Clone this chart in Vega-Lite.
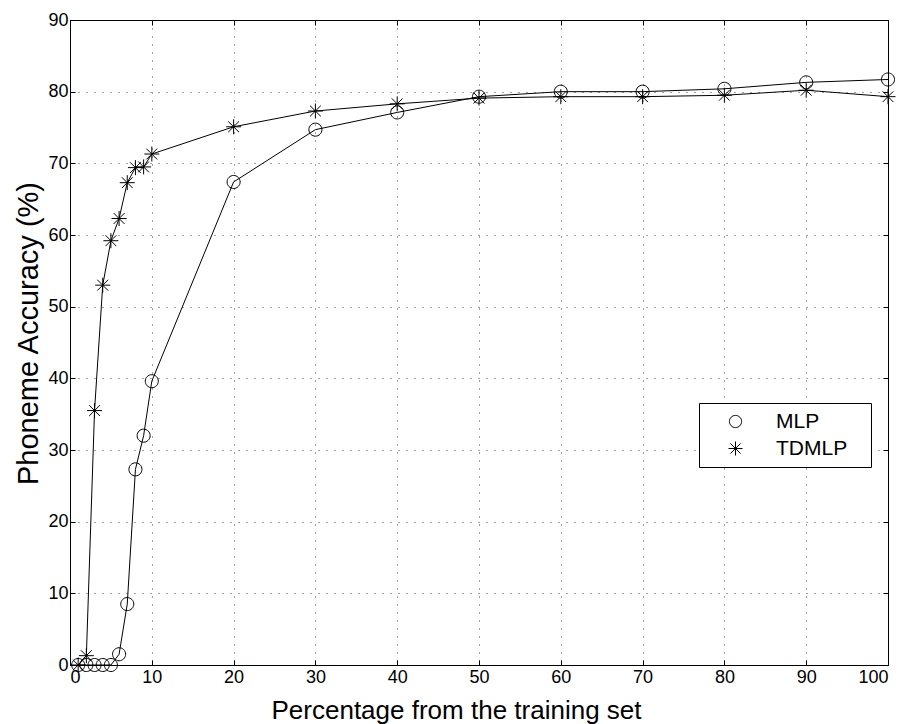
{
  "$schema": "https://vega.github.io/schema/vega-lite/v6.json",
  "width": 818,
  "height": 645,
  "autosize": "none",
  "padding": {"left": 70, "top": 20, "right": 17, "bottom": 59},
  "background": "white",
  "config": {
    "view": {"stroke": null},
    "font": "Liberation Sans",
    "axis": {
      "domainColor": "black",
      "domainWidth": 1,
      "tickColor": "black",
      "tickSize": -5,
      "labelColor": "black",
      "labelFont": "Liberation Sans",
      "labelFontSize": 18,
      "titleFont": "Liberation Sans",
      "titleFontSize": 26,
      "titleFontWeight": "normal",
      "titleColor": "black",
      "gridColor": "#444",
      "gridDash": [1, 7],
      "gridOpacity": 1,
      "gridWidth": 1
    }
  },
  "data": {
    "values": [
      {"x": 1, "acc": 0, "model": "MLP"},
      {"x": 2, "acc": 0, "model": "MLP"},
      {"x": 3, "acc": 0, "model": "MLP"},
      {"x": 4, "acc": 0, "model": "MLP"},
      {"x": 5, "acc": 0, "model": "MLP"},
      {"x": 6, "acc": 1.5, "model": "MLP"},
      {"x": 7, "acc": 8.5, "model": "MLP"},
      {"x": 8, "acc": 27.3, "model": "MLP"},
      {"x": 9, "acc": 32.0, "model": "MLP"},
      {"x": 10, "acc": 39.6, "model": "MLP"},
      {"x": 20, "acc": 67.4, "model": "MLP"},
      {"x": 30, "acc": 74.7, "model": "MLP"},
      {"x": 40, "acc": 77.1, "model": "MLP"},
      {"x": 50, "acc": 79.3, "model": "MLP"},
      {"x": 60, "acc": 80.0, "model": "MLP"},
      {"x": 70, "acc": 80.0, "model": "MLP"},
      {"x": 80, "acc": 80.4, "model": "MLP"},
      {"x": 90, "acc": 81.3, "model": "MLP"},
      {"x": 100, "acc": 81.7, "model": "MLP"},
      {"x": 1, "acc": 0, "model": "TDMLP"},
      {"x": 2, "acc": 1.3, "model": "TDMLP"},
      {"x": 3, "acc": 35.5, "model": "TDMLP"},
      {"x": 4, "acc": 53.0, "model": "TDMLP"},
      {"x": 5, "acc": 59.2, "model": "TDMLP"},
      {"x": 6, "acc": 62.3, "model": "TDMLP"},
      {"x": 7, "acc": 67.3, "model": "TDMLP"},
      {"x": 8, "acc": 69.4, "model": "TDMLP"},
      {"x": 9, "acc": 69.5, "model": "TDMLP"},
      {"x": 10, "acc": 71.3, "model": "TDMLP"},
      {"x": 20, "acc": 75.1, "model": "TDMLP"},
      {"x": 30, "acc": 77.3, "model": "TDMLP"},
      {"x": 40, "acc": 78.3, "model": "TDMLP"},
      {"x": 50, "acc": 79.1, "model": "TDMLP"},
      {"x": 60, "acc": 79.3, "model": "TDMLP"},
      {"x": 70, "acc": 79.3, "model": "TDMLP"},
      {"x": 80, "acc": 79.5, "model": "TDMLP"},
      {"x": 90, "acc": 80.2, "model": "TDMLP"},
      {"x": 100, "acc": 79.3, "model": "TDMLP"}
    ]
  },
  "resolve": {"axis": {"x": "independent", "y": "independent"}},
  "layer": [
    {
      "mark": {"type": "line", "color": "black", "strokeWidth": 1},
      "encoding": {
        "x": {"field": "x", "type": "quantitative",
              "scale": {"domain": [0, 100], "nice": false},
              "axis": {"orient": "bottom", "values": [0,10,20,30,40,50,60,70,80,90,100], "grid": true,
                       "title": "Percentage from the training set", "labelPadding": 8,
                       "titleX": 386, "titleY": 53, "titleBaseline": "alphabetic", "titleAlign": "center"}},
        "y": {"field": "acc", "type": "quantitative",
              "scale": {"domain": [0, 90], "nice": false},
              "axis": {"orient": "left", "values": [0,10,20,30,40,50,60,70,80,90], "grid": true,
                       "title": "Phoneme Accuracy (%)", "labelPadding": 7, "titleFontSize": 29,
                       "titleX": -33, "titleY": 313, "titleAngle": -90, "titleBaseline": "alphabetic", "titleAlign": "center"}},
        "detail": {"field": "model", "type": "nominal"}
      }
    },
    {
      "mark": {"type": "point", "filled": false, "strokeWidth": 1, "size": 225, "opacity": 1},
      "encoding": {
        "x": {"field": "x", "type": "quantitative", "axis": null},
        "y": {"field": "acc", "type": "quantitative", "axis": null},
        "shape": {
          "field": "model", "type": "nominal", "legend": null,
          "scale": {"domain": ["MLP", "TDMLP"],
                    "range": ["M0.87,0A0.87,0.87 0 1,1 -0.87,0A0.87,0.87 0 1,1 0.87,0",
                              "M0,-1L0,1M-1,0L1,0M-0.72,-0.72L0.72,0.72M-0.72,0.72L0.72,-0.72"]}
        },
        "color": {
          "field": "model", "type": "nominal",
          "scale": {"domain": ["MLP", "TDMLP"], "range": ["black", "black"]},
          "legend": {
            "title": null,
            "orient": "none",
            "legendX": 629,
            "legendY": 383,
            "padding": 8,
            "fillColor": "white",
            "strokeColor": "black",
            "symbolSize": 196,
            "symbolOffset": 18,
            "symbolType": {"expr": "datum.value === 'MLP' ? 'M-3.1,0L-0.79,0M0.79,0L3.1,0M0.79,0A0.79,0.79 0 1,1 -0.79,0A0.79,0.79 0 1,1 0.79,0' : 'M-3.1,0L3.1,0M0,-0.86L0,0.86M-0.62,-0.62L0.62,0.62M-0.62,0.62L0.62,-0.62'"},
            "symbolStrokeColor": "black",
            "symbolFillColor": "transparent",
            "symbolStrokeWidth": 1,
            "labelFont": "Liberation Sans",
            "labelFontSize": 21,
            "labelColor": "black",
            "labelOffset": 30,
            "rowPadding": 5,
            "labelExpr": "datum.label + '\u2800'"
          }
        }
      }
    },
    {
      "mark": {"type": "point", "opacity": 0},
      "encoding": {
        "x": {"field": "x", "type": "quantitative",
              "axis": {"orient": "top", "values": [0,10,20,30,40,50,60,70,80,90,100], "labels": false, "title": null, "grid": false}},
        "y": {"field": "acc", "type": "quantitative",
              "axis": {"orient": "right", "values": [0,10,20,30,40,50,60,70,80,90], "labels": false, "title": null, "grid": false}}
      }
    }
  ]
}
